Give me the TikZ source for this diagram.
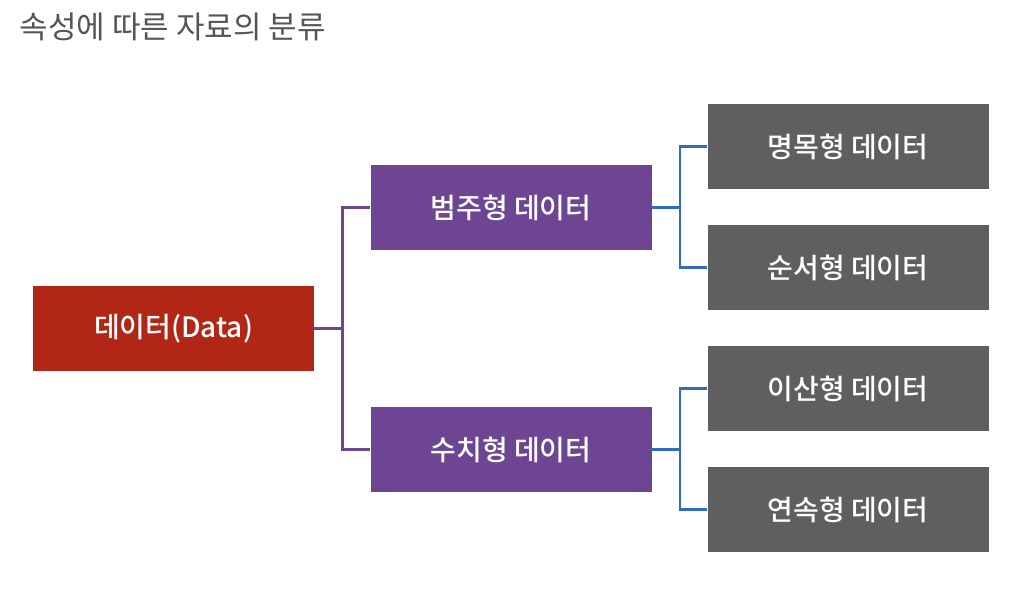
\documentclass[tikz,border=0pt]{standalone}
\usepackage{fontspec}
\setmainfont{Noto Sans CJK KR}
\newfontfamily\medfont{Noto Sans CJK KR Medium}
\definecolor{redc}{HTML}{B22616}
\definecolor{purc}{HTML}{6E4592}
\definecolor{grayc}{HTML}{5F5F5F}
\definecolor{bluec}{HTML}{2E6CC0}
\definecolor{titlec}{HTML}{555555}
\begin{document}
\begin{tikzpicture}[x=1pt,y=-1pt,
  box/.style={minimum width=281pt,minimum height=85pt,inner sep=0pt,text=white,font=\medfont\fontsize{28}{32}\selectfont},
  redbox/.style={box,fill=redc},
  purbox/.style={box,fill=purc},
  graybox/.style={box,fill=grayc},
  pline/.style={draw=purc,line width=2.6pt},
  bline/.style={draw=bluec,line width=2.6pt}]
\useasboundingbox (0,0) rectangle (1018,598);
\node[anchor=west,text=titlec,font=\fontsize{31}{36}\selectfont] (title) at (16,27) {속성에 따른 자료의 분류};
\node[redbox] (data) at (173.5,328.5) {데이터(Data)};
\node[purbox] (cat) at (511,207.5) {범주형 데이터};
\node[purbox] (num) at (511,449.5) {수치형 데이터};
\node[graybox] (nom) at (848,146.5) {명목형 데이터};
\node[graybox] (ord) at (848,267.5) {순서형 데이터};
\node[graybox] (dis) at (848,388.5) {이산형 데이터};
\node[graybox] (con) at (848,509.5) {연속형 데이터};
\coordinate (j1) at (342.5,328.5);
\coordinate (j2) at (680,207.5);
\coordinate (j3) at (680,449.5);
\draw[pline] (data.east) -- (j1);
\draw[pline] (cat.west) -| (j1) |- (num.west);
\draw[bline] (cat.east) -- (j2);
\draw[bline] (nom.west) -| (j2) |- (ord.west);
\draw[bline] (num.east) -- (j3);
\draw[bline] (dis.west) -| (j3) |- (con.west);
\end{tikzpicture}
\end{document}
